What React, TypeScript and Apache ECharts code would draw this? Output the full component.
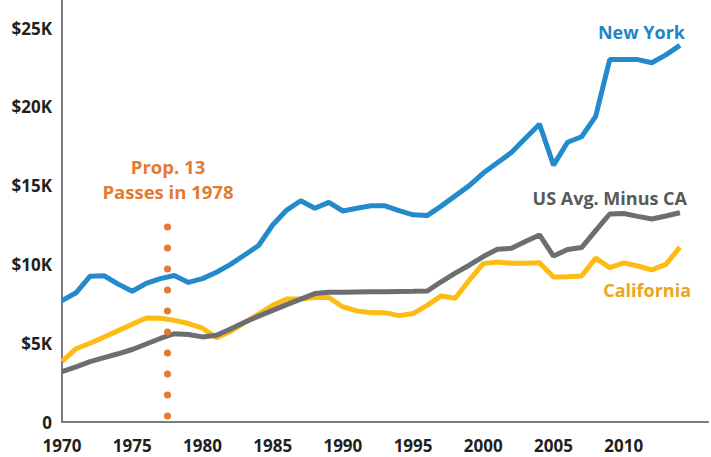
import React, { useEffect, useRef } from "react";
import * as echarts from "echarts";

const years: number[] = [];
for (let y = 1970; y <= 2014; y++) years.push(y);

// Values in thousands of dollars
const newYork = [
  7.7, 8.2, 9.25, 9.28, 8.75, 8.3, 8.8, 9.1, 9.3, 8.86,
  9.1, 9.5, 10.0, 10.6, 11.2, 12.5, 13.45, 14.04, 13.56, 13.94,
  13.39, 13.56, 13.72, 13.72, 13.41, 13.15, 13.1, 13.7, 14.35, 15.0,
  15.8, 16.45, 17.1, 18.0, 18.9, 16.3, 17.75, 18.1, 19.4, 23.0,
  23.0, 23.0, 22.8, 23.3, 23.9,
];
const usAvgMinusCA = [
  3.2, 3.5, 3.83, 4.08, 4.33, 4.6, 4.95, 5.3, 5.6, 5.55,
  5.4, 5.5, 5.9, 6.33, 6.72, 7.08, 7.45, 7.8, 8.15, 8.23,
  8.24, 8.25, 8.26, 8.27, 8.28, 8.29, 8.31, 8.9, 9.45, 9.95,
  10.5, 10.96, 11.02, 11.45, 11.87, 10.53, 10.95, 11.07, 12.15, 13.2,
  13.23, 13.05, 12.88, 13.07, 13.28,
];
const california = [
  3.85, 4.65, 5.0, 5.4, 5.8, 6.2, 6.6, 6.58, 6.45, 6.25,
  5.95, 5.35, 5.75, 6.3, 6.85, 7.4, 7.8, 7.8, 7.9, 7.9,
  7.3, 7.05, 6.94, 6.94, 6.75, 6.88, 7.4, 8.0, 7.85, 9.0,
  10.05, 10.15, 10.07, 10.08, 10.1, 9.2, 9.22, 9.26, 10.4, 9.8,
  10.1, 9.9, 9.65, 10.0, 11.1,
];

const yTickLabels: Record<number, string> = { 0: "0", 5: "$5K", 10: "$10K", 15: "$15K", 20: "$20K", 25: "$25K" };
const xTickYears = [1970, 1975, 1980, 1985, 1990, 1995, 2000, 2005, 2010];

const PROP13_YEAR = 1977.5;

const BLUE = "#238acb";
const GRAY = "#6d6e71";
const YELLOW = "#fdbb13";
const ORANGE = "#e27a2f";
const FONT = "'Open Sans', 'Noto Sans', sans-serif";

export default function App() {
  const ref = useRef<HTMLDivElement>(null);
  useEffect(() => {
    if (!ref.current) return;
    const chart = echarts.init(ref.current, undefined, { renderer: "svg" });
    const pair = (arr: number[]) => years.map((y, i) => [y, arr[i]]);
    chart.setOption({
      animation: false,
      backgroundColor: "#ffffff",
      grid: { left: 62, right: 0, top: 0, bottom: 35 },
      xAxis: {
        type: "value",
        min: 1970,
        max: 2016,
        interval: 5,
        splitLine: { show: false },
        axisTick: { show: false },
        axisLine: { show: true, lineStyle: { color: "#7a7b7e", width: 2 } },
        axisLabel: {
          margin: 15,
          fontFamily: FONT,
          fontWeight: "bold",
          fontSize: 17,
          lineHeight: 17,
          color: "#231f20",
          formatter: (v: number) => (xTickYears.includes(v) ? String(v) : ""),
        },
      },
      yAxis: {
        type: "value",
        min: 0,
        max: 26.78,
        interval: 5,
        splitLine: { show: false },
        axisTick: { show: false },
        axisLine: { show: true, lineStyle: { color: "#7a7b7e", width: 2 } },
        axisLabel: {
          margin: 10,
          fontFamily: FONT,
          fontWeight: "bold",
          fontSize: 17,
          color: "#231f20",
          formatter: (v: number) => yTickLabels[v] ?? "",
        },
      },
      series: [
        {
          name: "California",
          type: "line",
          data: pair(california),
          showSymbol: false,
          lineStyle: { color: YELLOW, width: 5 },
          z: 2,
        },
        {
          name: "US Avg. Minus CA",
          type: "line",
          data: pair(usAvgMinusCA),
          showSymbol: false,
          lineStyle: { color: GRAY, width: 5 },
          z: 3,
          markLine: {
            silent: true,
            symbol: "none",
            label: { show: false },
            lineStyle: { color: ORANGE, width: 7, type: [0.01, 21], cap: "round" },
            data: [[{ coord: [PROP13_YEAR, 0.38] }, { coord: [PROP13_YEAR, 13.6] }]],
          },
        },
        {
          name: "New York",
          type: "line",
          data: pair(newYork),
          showSymbol: false,
          lineStyle: { color: BLUE, width: 5 },
          z: 4,
        },
      ],
      graphic: [
        {
          type: "text",
          x: 685,
          y: 32,
          style: { text: "New York", fill: "#1f86c6", font: `bold 18px ${FONT}`, align: "right", verticalAlign: "middle" },
        },
        {
          type: "text",
          x: 687,
          y: 198,
          style: { text: "US Avg. Minus CA", fill: "#58595b", font: `bold 18px ${FONT}`, align: "right", verticalAlign: "middle" },
        },
        {
          type: "text",
          x: 691,
          y: 290,
          style: { text: "California", fill: "#eba521", font: `bold 18px ${FONT}`, align: "right", verticalAlign: "middle" },
        },
        {
          type: "text",
          x: 168,
          y: 166,
          style: { text: "Prop. 13", fill: ORANGE, font: `bold 18.5px ${FONT}`, align: "center", verticalAlign: "middle" },
        },
        {
          type: "text",
          x: 168,
          y: 191,
          style: { text: "Passes in 1978", fill: ORANGE, font: `bold 18.5px ${FONT}`, align: "center", verticalAlign: "middle" },
        },
      ],
    });
    return () => chart.dispose();
  }, []);
  return <div ref={ref} style={{ width: 711, height: 457, position: "absolute", left: 0, top: 0 }} />;
}
